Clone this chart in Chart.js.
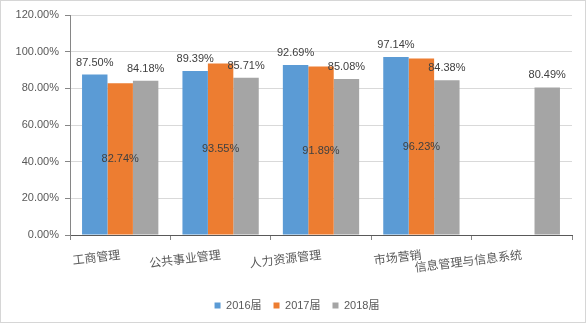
<!DOCTYPE html>
<html><head><meta charset="utf-8">
<script src="https://cdn.jsdelivr.net/npm/chart.js@4"></script>
<style>html,body{margin:0;padding:0;background:#fff}#wrap{width:587px;height:324px}</style>
</head><body><div id="wrap"><canvas id="c" width="587" height="324"></canvas></div>
<script>
const categories = ['工商管理','公共事业管理','人力资源管理','市场营销','信息管理与信息系统'];
const seriesNames = ['2016届','2017届','2018届'];
const values2016 = [87.50, 89.39, 92.69, 97.14, null];
const values2017 = [82.74, 93.55, 91.89, 96.23, null];
const values2018 = [84.18, 85.71, 85.08, 84.38, 80.49];
const yMin = 0, yMax = 120, yStep = 20;
const colors = ['#5B9BD5','#ED7D31','#A5A5A5'];

const borderPlugin = {
  id:'frame',
  beforeDraw(chart){
    const ctx = chart.ctx;
    ctx.save();
    ctx.fillStyle='#fff';
    ctx.fillRect(0,0,chart.width,chart.height);
    ctx.strokeStyle='#d6d6d6';
    ctx.lineWidth=1;
    ctx.strokeRect(0.5,0.5,chart.width-2,chart.height-2);
    ctx.restore();
  }
};
const legendShift = {
  id:'legendShift',
  afterLayout(chart){
    const lg = chart.legend;
    if (lg) { lg.left += 11; lg.right += 11; }
  }
};
const labelPlugin = {
  id:'valueLabels',
  afterDatasetsDraw(chart){
    const ctx = chart.ctx;
    ctx.save();
    ctx.font = '11px "Liberation Sans"';
    ctx.fillStyle = '#404040';
    ctx.textAlign = 'center';
    ctx.textBaseline = 'middle';
    chart.data.datasets.forEach((ds,i)=>{
      const meta = chart.getDatasetMeta(i);
      meta.data.forEach((el,j)=>{
        const v = ds.data[j];
        if (v == null) return;
        const y = i === 1 ? (el.y + el.base)/2 : el.y - 12;
        ctx.fillText(v.toFixed(2) + '%', el.x, y);
      });
    });
    ctx.restore();
  }
};

const seriesValues = [values2016, values2017, values2018];
new Chart(document.getElementById('c'), {
  type:'bar',
  data:{
    labels: categories,
    datasets: seriesNames.map((n,i)=>({
      label:n, data:seriesValues[i], backgroundColor:colors[i],
      categoryPercentage:0.76, barPercentage:1.0, borderWidth:0
    }))
  },
  options:{
    responsive:false, animation:false, devicePixelRatio:1,
    layout:{padding:{left:0,right:15,top:15,bottom:3}},
    plugins:{
      tooltip:{enabled:false},
      legend:{
        position:'bottom',
        labels:{boxWidth:6, boxHeight:6, padding:12, color:'#595959',
          font:{family:'"Liberation Sans", "Noto Sans CJK SC"', size:11}}
      }
    },
    scales:{
      x:{
        grid:{display:true, drawOnChartArea:false, offset:true, drawTicks:true, tickLength:5, tickColor:'#868686'},
        border:{color:'#595959', width:1},
        ticks:{autoSkip:false, maxRotation:7, minRotation:7, padding:7, color:'#595959',
          font:{family:'"Noto Sans CJK SC"', size:12}},
        afterFit(s){ s.height = 53; }
      },
      y:{
        min:yMin, max:yMax,
        grid:{color:'#d9d9d9', tickColor:'#868686', tickLength:5},
        border:{color:'#868686', width:1},
        ticks:{stepSize:yStep, padding:6, color:'#595959',
          font:{family:'"Liberation Sans"', size:11},
          callback:(v)=>v.toFixed(2)+'%'},
        afterFit(s){ s.width = 70; }
      }
    }
  },
  plugins:[borderPlugin, legendShift, labelPlugin]
});
</script></body></html>
